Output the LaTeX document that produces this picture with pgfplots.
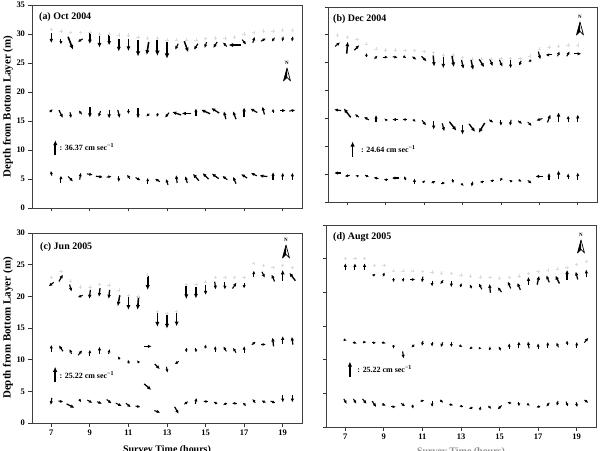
\documentclass[border=0pt]{standalone}
\usepackage{fontspec}
\setmainfont{Liberation Serif}
\usepackage{pgfplots}
\usepackage{pgfplotstable}
\pgfplotsset{compat=1.18}
\usetikzlibrary{arrows.meta}

% one row of current vectors: #1 table (t = time h, d = depth m, u = east, v = north, cm/s)
% #2, #3 = length of 1 cm/s along the time and depth axes; arrows are centred on (t,d)
\newcommand{\currents}[3]{%
  \addplot[black, -{Latex[length=1.1bp 2.3, width'=0pt 0.9]},
    point meta={sqrt((\thisrow{u})^2+(\thisrow{v})^2)},
    quiver={u=(\thisrow{u})*#2, v=(\thisrow{v})*#3,
      every arrow/.append style={line width=0.6bp+1.3bp*\pgfplotspointmetatransformed/1000}}]
    table[x expr={\thisrow{t}-0.5*(\thisrow{u})*#2}, y expr={\thisrow{d}-0.5*(\thisrow{v})*#3}] {#1};
}
\newcommand{\surface}[1]{%
  \addplot[only marks, mark=+, mark size=1.7bp, mark options={black!14, line width=0.5bp}] table {#1};
}

\pgfplotsset{
  panel/.style={
    scale only axis, anchor=south west, clip=false,
    xmin=6, xmax=20, xtick={7,9,...,19}, ymin=0,
    axis line style={black!75, line width=0.8bp},
    tick style={black!80, line width=0.8bp},
    major tick length=3.5bp, tick align=outside,
    xtick pos=bottom, ytick pos=left,
    ticklabel style={font=\bfseries\fontsize{8.5}{10}\selectfont},
    /pgf/number format/assume math mode=true,
    point meta min=0,
  },
  depthlabel/.style={
    ylabel={Depth from Bottom Layer (m)},
    ylabel style={at={(axis description cs:-0.0889,0.5)}, anchor=center,
      font=\bfseries\fontsize{11}{12}\selectfont},
  },
}
\tikzset{
  scaletext/.style={anchor=west, inner sep=0pt, font=\bfseries\fontsize{8}{9}\selectfont},
  pics/northarrow/.style={code={
    \node[font=\bfseries\fontsize{5}{5}\selectfont, inner sep=0pt] at (0,5) {N};
    \fill[black] (0,0)--(-3.5,-13)--(0,-9.5)--cycle;
    \draw[black, line width=0.7bp, line join=round] (0,0)--(-3.5,-13)--(0,-9.5)--(3.5,-13)--cycle;
  }},
  paneltitle/.style={anchor=west, inner sep=0pt, font=\bfseries\fontsize{10}{11}\selectfont},
}

\begin{document}

% ---------------- Oct 2004 ----------------
\pgfplotstableread{
t d u v
7.0 29.3 0 -24.3
7.5 28.7 0 -14.6
8.0 28.4 12.1 -31.5
8.5 28.9 -12.1 -7.3
9.0 29.3 0 -29.1
9.5 28.7 0 -29.1
10.0 28.9 0 -24.3
10.5 28.1 0 -31.5
11.0 28.1 0 -29.1
11.5 27.5 0 -38.8
12.0 27.5 -4.9 -31.5
12.5 27.6 0 -38.8
13.0 27.2 0 -41.2
13.5 27.8 -7.3 -14.6
14.0 27.8 9.7 -26.7
14.5 27.8 -9.7 -14.6
15.0 28.1 -4.9 -14.6
15.5 28.1 -9.7 -14.6
16.0 28.2 -9.7 9.7
16.5 28.1 -29.1 0
17.0 28.6 9.7 -12.1
17.5 29.0 4.9 14.6
18.0 29.0 12.1 7.3
18.5 29.0 -7.3 -9.7
19.0 29.1 -2.4 -12.1
19.5 29.1 -2.4 -12.1
}\aTop
\pgfplotstableread{
t d u v
7.0 16.8 7.3 7.3
7.5 16.2 9.7 -19.4
8.0 16.0 2.4 -14.6
8.5 16.5 -7.3 9.7
9.0 16.5 0 -26.7
9.5 16.2 -4.9 -14.6
10.0 16.2 0 -21.8
10.5 16.2 4.9 -19.4
11.0 16.6 0 -12.1
11.5 16.3 0 -24.3
12.0 16.0 -7.3 -7.3
12.5 16.0 -2.4 -9.7
13.0 16.0 -9.7 -12.1
13.5 16.3 -21.8 7.3
14.0 16.3 -21.8 0
14.5 16.5 0 19.4
15.0 16.6 -21.8 9.7
15.5 16.8 -19.4 12.1
16.0 16.0 -4.9 19.4
16.5 16.0 -7.3 19.4
17.0 16.5 0 24.3
17.5 16.8 -17.0 9.7
18.0 16.8 -4.9 19.4
18.5 16.8 0 9.7
19.0 16.8 14.6 0
19.5 16.8 14.6 2.4
}\aMid
\pgfplotstableread{
t d u v
7.0 6.0 -2.4 12.1
7.5 5.0 0 17.0
8.0 5.0 12.1 -12.1
8.5 5.5 2.4 17.0
9.0 5.8 14.6 -2.4
9.5 5.4 17.0 -2.4
10.0 5.4 12.1 2.4
10.5 5.0 0 -14.6
11.0 5.4 -7.3 9.7
11.5 5.0 12.1 -7.3
12.0 4.7 0 14.6
12.5 4.8 -12.1 7.3
13.0 4.5 -4.9 14.6
13.5 5.0 -2.4 19.4
14.0 4.9 -4.9 17.0
14.5 5.3 -14.6 17.0
15.0 5.5 -14.6 14.6
15.5 5.5 -17.0 12.1
16.0 5.2 -12.1 9.7
16.5 4.8 -7.3 17.0
17.0 5.5 -14.6 9.7
17.5 5.8 -14.6 7.3
18.0 5.5 -19.4 2.4
18.5 5.5 0 19.4
19.0 5.5 0 17.0
19.5 5.5 0 17.0
}\aBot
\pgfplotstableread{
t d
7.0 30.8
7.5 30.5
8.0 30.3
8.5 30.3
9.0 30.3
9.5 30.0
10.0 30.0
10.5 29.8
11.0 29.8
11.5 29.5
12.0 29.3
12.5 29.3
13.0 29.0
13.5 29.0
14.0 29.0
14.5 29.0
15.0 29.2
15.5 29.3
16.0 29.3
16.5 29.5
17.0 30.0
17.5 30.3
18.0 30.5
18.5 30.5
19.0 30.7
19.5 30.7
}\aSurf
\pgfplotstableread{
t d u v
7.21 10.4 0 36.37
}\aScale

% ---------------- Dec 2004 ----------------
\pgfplotstableread{
t d u v
6.5 28.3 8.2 6.6
7.0 27.7 1.6 19.7
7.5 27.7 8.2 8.2
8.0 26.4 0 6.6
8.5 26.0 4.9 4.9
9.0 26.0 8.2 0
9.5 26.0 8.2 -1.6
10.0 26.0 4.9 -3.3
10.5 25.8 6.6 -4.9
11.0 25.7 8.2 -8.2
11.5 25.3 1.6 -18.1
12.0 25.0 0 -18.1
12.5 25.3 3.3 -19.7
13.0 24.7 3.3 -14.8
13.5 24.6 3.3 -16.4
14.0 24.9 8.2 -13.1
14.5 25.0 4.9 -11.5
15.0 24.9 4.9 -11.5
15.5 24.7 0 -13.1
16.0 24.9 -3.3 -8.2
16.5 25.3 -4.9 -3.3
17.0 26.3 3.3 -13.1
17.5 26.4 -11.5 0
18.0 26.6 3.3 8.2
18.5 26.6 4.9 8.2
19.0 26.6 11.5 0
}\bTop
\pgfplotstableread{
t d u v
6.5 16.5 -11.5 1.6
7.0 16.0 -11.5 14.8
7.5 15.5 -6.6 4.9
8.0 15.0 -8.2 4.9
8.5 15.0 0 11.5
9.0 14.8 -4.9 3.3
9.5 14.8 -9.9 0
10.0 14.8 -8.2 0
10.5 14.6 4.9 -3.3
11.0 14.2 6.6 -8.2
11.5 13.8 0 -14.8
12.0 13.4 3.3 -13.1
12.5 13.6 11.5 -14.8
13.0 13.0 0 -16.4
13.5 13.3 9.9 -13.1
14.0 13.3 -9.9 -16.4
14.5 14.5 6.6 -4.9
15.0 14.2 0 -9.9
15.5 14.2 -1.6 -9.9
16.0 14.3 6.6 -4.9
16.5 14.0 6.6 -6.6
17.0 14.8 -9.9 -3.3
17.5 15.0 4.9 13.1
18.0 15.2 0 16.4
18.5 14.9 0 11.5
19.0 15.0 0 13.1
}\bMid
\pgfplotstableread{
t d u v
6.5 5.2 -11.5 0
7.0 4.7 -8.2 -1.6
7.5 4.7 -4.9 1.6
8.0 4.7 -6.6 3.3
8.5 4.3 -8.2 1.6
9.0 4.0 -6.6 0
9.5 4.3 -11.5 0
10.0 4.3 -3.3 6.6
10.5 3.7 0 9.9
11.0 3.7 4.9 3.3
11.5 3.6 6.6 3.3
12.0 3.4 6.6 0
12.5 3.7 0 -6.6
13.0 3.1 4.9 -3.3
13.5 3.2 -1.6 -8.2
14.0 3.6 -6.6 0
14.5 3.8 -4.9 0
15.0 4.0 -3.3 -4.9
15.5 3.8 -4.9 3.3
16.0 3.8 4.9 -3.3
16.5 3.6 6.6 -4.9
17.0 4.6 -13.1 0
17.5 4.6 0 11.5
18.0 4.85 0 14.8
18.5 4.6 0 9.9
19.0 4.6 0 13.1
}\bBot
\pgfplotstableread{
t d
6.5 30.0
7.0 29.6
7.5 29.2
8.0 28.4
8.5 27.5
9.0 27.3
9.5 27.3
10.0 27.2
10.5 27.2
11.0 27.0
11.5 26.8
12.0 26.4
12.5 26.4
13.0 25.9
13.5 25.7
14.0 25.7
14.5 25.7
15.0 25.8
15.5 25.8
16.0 25.8
16.5 26.2
17.0 27.5
17.5 27.8
18.0 28.0
18.5 28.2
19.0 28.2
}\bSurf
\pgfplotstableread{
t d u v
7.28 9.5 0 24.64
}\bScale

% ---------------- Jun 2005 ----------------
\pgfplotstableread{
t d u v
7.0 21.9 -8.4 -6.7
7.5 22.9 6.7 11.8
8.0 21.3 3.4 -11.8
8.5 20.0 -8.4 -3.4
9.0 20.3 -1.7 -15.1
9.5 20.6 -1.7 -15.1
10.0 20.3 -1.7 -15.1
10.5 19.3 -3.4 -18.5
11.0 18.9 0 -21.9
11.5 18.9 -1.7 -21.9
12.0 22.1 0 -23.5
12.5 16.3 0 -23.5
13.0 16.0 0 -23.5
13.5 16.3 0 -21.9
14.0 20.6 0 -21.9
14.5 20.6 0 -20.2
15.0 21.0 0 -16.8
15.5 21.7 1.7 -13.4
16.0 21.7 0 -13.4
16.5 21.7 6.7 10.1
17.0 21.7 0 -10.1
17.5 23.6 0 10.1
18.0 23.4 5.0 -10.1
18.5 22.9 -5.0 11.8
19.0 23.3 0 18.5
19.5 23.1 -10.1 13.4
}\cTop
\pgfplotstableread{
t d u v
7.0 11.8 0 11.8
7.5 11.8 -6.7 10.1
8.0 11.3 -3.4 8.4
8.5 11.1 6.7 8.4
9.0 11.1 0 10.1
9.5 11.5 0 11.8
10.0 11.3 1.7 8.4
10.5 10.3 -3.4 5.0
11.0 9.7 -1.7 6.7
11.5 9.7 -3.4 5.0
12.0 12.1 13.4 0
12.5 8.9 8.4 -8.4
13.0 8.4 1.7 -10.1
13.5 9.5 -6.7 -5.0
14.0 11.5 0 -8.4
14.5 11.5 0 -8.4
15.0 12.1 1.7 6.7
15.5 11.7 0 10.1
16.0 11.7 -5.0 8.4
16.5 11.5 -5.0 8.4
17.0 11.6 0 11.8
17.5 12.6 6.7 5.0
18.0 12.4 8.4 0
18.5 12.8 -1.7 15.1
19.0 13.1 0 13.4
19.5 13.0 -1.7 13.4
}\cMid
\pgfplotstableread{
t d u v
7.0 3.4 -1.7 -11.8
7.5 3.4 8.4 -1.7
8.0 2.7 13.4 -6.7
8.5 3.5 3.4 -5.0
9.0 3.4 8.4 -5.0
9.5 3.2 8.4 -3.4
10.0 3.4 8.4 -6.7
10.5 2.9 10.1 -5.0
11.0 2.8 8.4 -6.7
11.5 2.6 8.4 -1.7
12.0 5.7 11.8 -10.1
12.5 1.8 10.1 -3.4
13.5 2.0 6.7 -11.8
14.0 3.2 6.7 5.0
14.5 3.5 1.7 10.1
15.0 3.4 -8.4 0
15.5 3.2 -6.7 3.4
16.0 3.0 -6.7 -1.7
16.5 3.1 -8.4 0
17.0 3.0 -5.0 5.0
17.5 3.5 -5.0 6.7
18.0 3.4 -6.7 3.4
18.5 3.3 8.4 -3.4
19.0 3.8 0 -11.8
19.5 3.8 0 -11.8
}\cBot
\pgfplotstableread{
t d
7.0 23.0
7.5 23.9
8.0 22.4
8.5 21.5
9.0 21.5
9.5 21.9
10.0 21.8
10.5 21.0
11.0 20.1
11.5 20.0
12.0 23.4
12.5 17.6
13.0 17.3
13.5 17.6
14.0 21.9
14.5 21.9
15.0 22.3
15.5 23.0
16.0 23.0
16.5 23.0
17.0 23.0
17.5 25.2
18.0 24.9
18.5 24.6
19.0 24.9
19.5 24.6
}\cSurf
\pgfplotstableread{
t d u v
7.2 7.7 0 25.22
}\cScale

% ---------------- Aug 2005 ----------------
\pgfplotstableread{
t d u v
7.0 23.8 0 11.8
7.5 23.8 0 11.8
8.0 23.8 0 11.8
8.5 22.6 5.0 3.4
9.0 22.7 1.7 6.7
9.5 21.8 0 -6.7
10.0 21.8 0 -6.7
10.5 21.9 8.4 0
11.0 21.9 -1.7 -10.1
11.5 21.3 0 -10.1
12.0 21.5 -5.0 -6.7
12.5 21.2 0 -10.1
13.0 21.1 1.7 6.7
13.5 20.9 -3.4 6.7
14.0 20.9 -5.0 10.1
14.5 20.6 -1.7 15.1
15.0 20.4 -6.7 8.4
15.5 21.1 -5.0 11.8
16.0 20.9 -5.0 11.8
16.5 21.7 0 13.4
17.0 21.8 3.4 15.1
17.5 22.0 -5.0 11.8
18.0 21.9 -6.7 13.4
18.5 22.6 0 16.8
19.0 22.5 -3.4 13.4
19.5 22.8 0 13.4
}\dTop
\pgfplotstableread{
t d u v
7.0 12.9 5.0 -1.7
7.5 12.5 6.7 -1.7
8.0 12.6 6.7 0
8.5 12.5 6.7 0
9.0 12.5 6.7 -1.7
9.5 11.9 0 -6.7
10.0 10.7 1.7 -11.8
10.5 12.0 -5.0 -5.0
11.0 12.4 -1.7 -8.4
11.5 12.3 0 -8.4
12.0 12.2 -3.4 -8.4
12.5 12.2 0 -8.4
13.0 12.0 5.0 -3.4
13.5 11.7 -5.0 -3.4
14.0 11.7 5.0 0
14.5 11.7 0 6.7
15.0 11.7 -3.4 6.7
15.5 12.0 0 10.1
16.0 12.2 0 11.8
16.5 12.2 -1.7 11.8
17.0 12.0 0 10.1
17.5 12.2 0 10.1
18.0 12.2 -3.4 8.4
18.5 12.5 0 8.4
19.0 12.2 0 10.1
19.5 12.9 6.7 8.4
}\dMid
\pgfplotstableread{
t d u v
7.0 3.8 5.0 -8.4
7.5 3.8 5.0 -8.4
8.0 3.8 6.7 -8.4
8.5 3.4 6.7 -10.1
9.0 3.3 6.7 -3.4
9.5 3.0 8.4 0
10.0 3.3 6.7 -5.0
10.5 3.0 1.7 -6.7
11.0 3.9 6.7 1.7
11.5 3.4 0 -10.1
12.0 3.8 5.0 -5.0
12.5 3.3 6.7 -1.7
13.0 3.1 -6.7 0
13.5 2.8 -6.7 -1.7
14.0 2.8 1.7 6.7
14.5 2.9 5.0 -5.0
15.0 2.9 -6.7 -6.7
15.5 3.6 -6.7 1.7
16.0 3.4 0 -8.4
16.5 3.3 5.0 -3.4
17.0 3.0 -6.7 -1.7
17.5 3.3 -5.0 -6.7
18.0 3.5 -1.7 -8.4
18.5 3.4 3.4 -8.4
19.0 3.3 1.7 -8.4
19.5 3.8 6.7 -5.0
}\dBot
\pgfplotstableread{
t d
7.0 25.0
7.5 25.0
8.0 25.0
8.5 24.0
9.0 24.0
9.5 23.2
10.0 23.2
10.5 23.2
11.0 23.1
11.5 23.0
12.0 22.9
12.5 22.8
13.0 22.6
13.5 22.4
14.0 22.3
14.5 22.2
15.0 22.1
15.5 22.2
16.0 22.4
16.5 22.8
17.0 23.1
17.5 23.3
18.0 23.5
18.5 23.7
19.0 24.1
19.5 24.6
}\dSurf
\pgfplotstableread{
t d u v
7.24 8.6 0 25.22
}\dScale

\begin{tikzpicture}[x=1bp, y=1bp]
\useasboundingbox (0bp,0bp) rectangle (601bp,451bp);

% (a) Oct 2004
\begin{axis}[panel, depthlabel, at={(32bp,243bp)}, width=270bp, height=203bp,
    ymax=35, ytick={0,5,...,35}, xticklabels={}, point meta max=42]
  \surface{\aSurf}
  \currents{\aTop}{0.02138}{0.0711}
  \currents{\aMid}{0.02138}{0.0711}
  \currents{\aBot}{0.02138}{0.0711}
  \currents{\aScale}{0.02138}{0.0711}
  \node[scaletext] at (axis cs:7.42,10.5) {: 36.37 cm sec\textsuperscript{−1}};
\end{axis}

% (b) Dec 2004
\begin{axis}[panel, at={(328bp,249bp)}, width=269bp, height=195bp,
    ymax=35, ytick={0,5,...,35}, xticklabels={}, yticklabels={}, point meta max=28.5]
  \surface{\bSurf}
  \currents{\bTop}{0.03169}{0.1093}
  \currents{\bMid}{0.03169}{0.1093}
  \currents{\bBot}{0.03169}{0.1093}
  \currents{\bScale}{0.03169}{0.1093}
  \node[scaletext] at (axis cs:7.71,9.5) {: 24.64 cm sec\textsuperscript{−1}};
\end{axis}

% (c) Jun 2005
\begin{axis}[panel, depthlabel, at={(32bp,28bp)}, width=270bp, height=190bp,
    ymax=30, ytick={0,5,...,30}, point meta max=29,
    xlabel={Survey Time (hours)},
    xlabel style={at={(axis description cs:0.5,-0.116)}, anchor=north, inner sep=0pt,
      font=\bfseries\fontsize{10}{11}\selectfont}]
  \surface{\cSurf}
  \currents{\cTop}{0.03084}{0.0939}
  \currents{\cMid}{0.03084}{0.0939}
  \currents{\cBot}{0.03084}{0.0939}
  \currents{\cScale}{0.03084}{0.0939}
  \node[scaletext] at (axis cs:7.42,7.6) {: 25.22 cm sec\textsuperscript{−1}};
\end{axis}

% (d) Aug 2005
\begin{axis}[panel, at={(326bp,24bp)}, width=270bp, height=202bp,
    ymax=30, ytick={0,5,...,30}, yticklabels={}, point meta max=29,
    xlabel={Survey Time (hours)},
    xlabel style={at={(axis description cs:0.5,-0.099)}, anchor=north, inner sep=0pt,
      text=black!45, font=\bfseries\fontsize{10}{11}\selectfont}]
  \surface{\dSurf}
  \currents{\dTop}{0.03084}{0.0883}
  \currents{\dMid}{0.03084}{0.0883}
  \currents{\dBot}{0.03084}{0.0883}
  \currents{\dScale}{0.03084}{0.0883}
  \node[scaletext] at (axis cs:7.62,8.6) {: 25.22 cm sec\textsuperscript{−1}};
\end{axis}

% panel titles
\node[paneltitle] at (39bp,433.5bp) {(a) Oct 2004};
\node[paneltitle] at (333bp,432bp) {(b) Dec 2004};
\node[paneltitle] at (40bp,203.5bp) {(c) Jun 2005};
\node[paneltitle] at (333bp,213.5bp) {(d) Augt 2005};

% north arrows
\pic at (287bp,383bp) {northarrow};
\pic at (580bp,429bp) {northarrow};
\pic at (286bp,206bp) {northarrow};
\pic at (581bp,211bp) {northarrow};
\end{tikzpicture}
\end{document}
